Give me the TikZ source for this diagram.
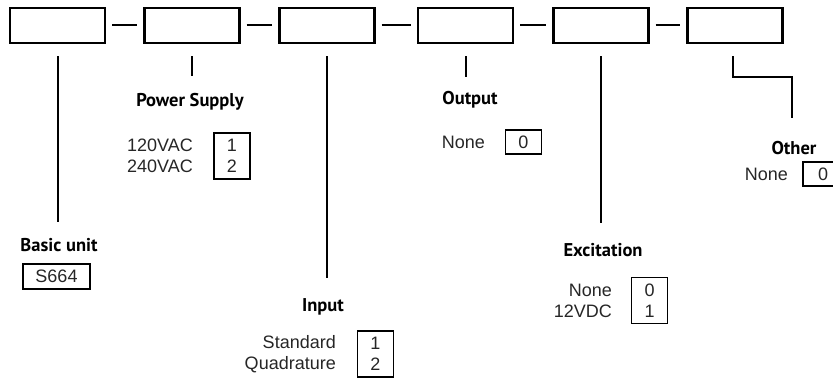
\documentclass[tikz,border=0pt]{standalone}
\usepackage{fontspec}
\setmainfont{Liberation Sans}
\newfontfamily\labfont{PT Sans}
\begin{document}
\begin{tikzpicture}[x=1pt,y=-1pt,
  unitbox/.style={draw, line width=2.2pt, minimum width=95pt, minimum height=35pt, inner sep=0pt},
  conn/.style={line width=2pt},
  lab/.style={font=\labfont\bfseries\fontsize{18.5}{22}\selectfont, inner sep=0pt},
  opts/.style={font=\fontsize{18}{21}\selectfont, text=black!85, align=right, inner sep=0pt, anchor=east},
  codebox/.style={draw, line width=1.1pt, minimum width=36pt, align=center, inner sep=0pt,
    font=\fontsize{18}{21}\selectfont, text=black!85}]
\useasboundingbox (0,0) rectangle (833,379);
% top boxes
\node[unitbox] (b1) at (57.5,25.5) {};
\node[unitbox] (b2) at (192,25.5) {};
\node[unitbox] (b3) at (327,25.5) {};
\node[unitbox] (b4) at (465.5,25.5) {};
\node[unitbox] (b5) at (601,25.5) {};
\node[unitbox] (b6) at (735,25.5) {};
\foreach \a/\b in {b1/b2,b2/b3,b3/b4,b4/b5,b5/b6}
  \draw[conn, shorten <=6pt, shorten >=6pt] (\a.east) -- (\b.west);
% labels
\node[lab] (l1) at (59,245) {Basic unit};
\node[lab] (l2) at (190,102) {Power Supply};
\node[lab] (l3) at (323,307) {Input};
\node[lab] (l4) at (470,100) {Output};
\node[lab] (l5) at (603,250) {Excitation};
\node[lab] (l6) at (794,148) {Other};
% leader ends
\coordinate (e1) at (57.5,222);
\coordinate (e2) at (192,76);
\coordinate (e3) at (327,278);
\coordinate (e4) at (465.5,77);
\coordinate (e5) at (601,223);
\coordinate (k6) at (792,77);
\coordinate (e6) at (792,118);
\draw[conn] ([yshift=-12pt]b1.south) -- (e1);
\draw[conn] ([yshift=-12pt]b2.south) -- (e2);
\draw[conn] ([yshift=-12pt]b3.south) -- (e3);
\draw[conn] ([yshift=-12pt]b4.south) -- (e4);
\draw[conn] ([yshift=-12pt]b5.south) -- (e5);
\draw[conn] ([xshift=-2pt,yshift=-12pt]b6.south) |- (k6) -- (e6);
% options
\node[codebox, minimum width=67pt, minimum height=25pt] (c1) at (56.5,276.5) {S664};
\node[opts] (o2) at (193,156) {120VAC\\240VAC};
\node[codebox, minimum height=46pt] (c2) at (232,156) {1\\2};
\node[opts] (o3) at (336,354) {Standard\\Quadrature};
\node[codebox, minimum height=46pt] (c3) at (375.5,354) {1\\2};
\node[opts] (o4) at (485,142) {None};
\node[codebox, minimum height=24pt] (c4) at (523.5,142) {0};
\node[opts] (o5) at (612,300.5) {None\\12VDC};
\node[codebox, minimum height=46pt] (c5) at (649.5,300.5) {0\\1};
\node[opts] (o6) at (788,174) {None};
\node[codebox, minimum width=40pt, minimum height=24pt] (c6) at (823,174) {0};
\end{tikzpicture}
\end{document}
